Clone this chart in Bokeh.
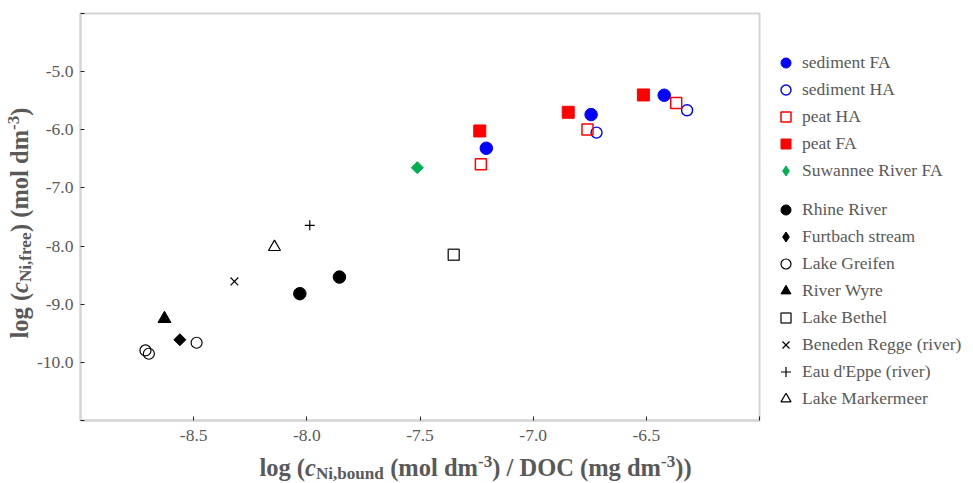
from math import pi
from bokeh.plotting import figure
from bokeh.layouts import row, column
from bokeh.models import Range1d, FixedTicker, Legend, LegendItem, Label, PrintfTickFormatter
from bokeh.embed import file_html
from bokeh.resources import INLINE

# ---------------- data ----------------
sed_fa_x = [-7.207, -6.744, -6.421]
sed_fa_y = [-6.318, -5.739, -5.406]
sed_ha_x = [-6.720, -6.320]
sed_ha_y = [-6.048, -5.664]
peat_ha_x = [-7.231, -6.760, -6.368]
peat_ha_y = [-6.594, -5.997, -5.539]
peat_fa_x = [-7.236, -6.845, -6.513]
peat_fa_y = [-6.020, -5.699, -5.401]
srfa_x = [-7.512]
srfa_y = [-6.651]
rhine_x = [-8.031, -7.856]
rhine_y = [-8.819, -8.533]
furt_x = [-8.561]
furt_y = [-9.611]
greifen_x = [-8.713, -8.698, -8.487]
greifen_y = [-9.795, -9.852, -9.663]
wyre_x = [-8.629]
wyre_y = [-9.250]
bethel_x = [-7.351]
bethel_y = [-8.148]
regge_x = [-8.320]
regge_y = [-8.608]
eppe_x = [-7.987]
eppe_y = [-7.644]
markermeer_x = [-8.143]
markermeer_y = [-8.017]

x_ticks = [-8.5, -8.0, -7.5, -7.0, -6.5]
x_end_ticks = [-9.0, -6.0]
y_ticks = [-10.0, -9.0, -8.0, -7.0, -6.0, -5.0]
y_end_ticks = [-11.0, -4.0]

group1 = ["sediment FA", "sediment HA", "peat HA", "peat FA", "Suwannee River FA"]
group2 = ["Rhine River", "Furtbach stream", "Lake Greifen", "River Wyre", "Lake Bethel",
          "Beneden Regge (river)", "Eau d'Eppe (river)", "Lake Markermeer"]

FONT = "Liberation Serif"
GRAY = "#595959"
BLUE, RED, GREEN = "#0000ff", "#ff0000", "#00b050"

styles1 = [dict(marker="circle", size=12.5, fill_color=BLUE, line_color=BLUE),
           dict(marker="circle", size=11, fill_alpha=0, line_color=BLUE, line_width=1.4),
           dict(marker="square", size=11, fill_alpha=0, line_color=RED, line_width=1.5),
           dict(marker="square", size=12, fill_color=RED, line_color=RED),
           dict(marker="square", angle=pi / 4, size=8.5, fill_color=GREEN, line_color=GREEN)]
styles2 = [dict(marker="circle", size=12.5, fill_color="black", line_color="black"),
           dict(marker="square", angle=pi / 4, size=8.5, fill_color="black", line_color="black"),
           dict(marker="circle", size=11, fill_alpha=0, line_color="black", line_width=1.2),
           dict(marker="triangle", size=13, fill_color="black", line_color="black"),
           dict(marker="square", size=11, fill_alpha=0, line_color="#333333", line_width=1.5),
           dict(marker="x", size=11, line_color="black", line_width=1.2),
           dict(marker="cross", size=10, line_color="black", line_width=1.2),
           dict(marker="triangle", size=12, fill_alpha=0, line_color="black", line_width=1.2)]
data1 = [(sed_fa_x, sed_fa_y), (sed_ha_x, sed_ha_y), (peat_ha_x, peat_ha_y),
         (peat_fa_x, peat_fa_y), (srfa_x, srfa_y)]
data2 = [(rhine_x, rhine_y), (furt_x, furt_y), (greifen_x, greifen_y), (wyre_x, wyre_y),
         (bethel_x, bethel_y), (regge_x, regge_y), (eppe_x, eppe_y), (markermeer_x, markermeer_y)]

YW = 34      # width of the y-title strip
LB = 80 - YW
MAIN_W, MAIN_H = LB + 679 + 2, 450
LEG_W = 973 - YW - MAIN_W
XT_H = 483 - MAIN_H


def blank(w, h):
    f = figure(width=w, height=h, output_backend="svg", toolbar_location=None,
               x_range=Range1d(0, 1), y_range=Range1d(0, 1), x_axis_type=None, y_axis_type=None,
               min_border=0, frame_align=False)
    f.grid.visible = False
    f.outline_line_color = None
    f.background_fill_color = "white"
    f.border_fill_color = "white"
    return f


# ---------------- main plot ----------------
p = figure(width=MAIN_W, height=MAIN_H, output_backend="svg", toolbar_location=None,
           x_range=Range1d(-9, -6), y_range=Range1d(-11, -4), frame_align=False,
           min_border_left=LB, min_border_right=2, min_border_top=13, min_border_bottom=30)
p.xgrid.visible = False
p.ygrid.visible = False
p.outline_line_color = "#d4d4d4"
p.outline_line_width = 2
p.background_fill_color = "white"
p.border_fill_color = "white"

for ax, tk, et in ((p.xaxis[0], x_ticks, x_end_ticks), (p.yaxis[0], y_ticks, y_end_ticks)):
    ax.ticker = FixedTicker(ticks=tk, minor_ticks=et)
    ax.formatter = PrintfTickFormatter(format="%.1f")
    ax.axis_line_color = "#d4d4d4"
    ax.axis_line_width = 2
    ax.major_tick_in = 4
    ax.major_tick_out = 0
    ax.minor_tick_in = 4
    ax.minor_tick_out = 0
    ax.major_tick_line_color = "#222222"
    ax.minor_tick_line_color = "#222222"
    ax.major_label_text_font = FONT
    ax.major_label_text_font_size = "17.5px"
    ax.major_label_text_color = GRAY
p.xaxis.major_label_standoff = 9
p.yaxis.major_label_standoff = 7

for (xs, ys), st in zip(data1 + data2, styles1 + styles2):
    p.scatter(xs, ys, **st)

# ---------------- legend strip ----------------
lf = blank(LEG_W, 483)


def mk_legend(names, styles, datas, loc):
    items = []
    for nm, st, (xs, ys) in zip(names, styles, datas):
        st = dict(st)
        if st.get("angle"):          # legends ignore marker angle: use a diamond there
            st.pop("angle")
            st["marker"] = "diamond"
        r = lf.scatter(xs, ys, **st)   # outside this strip's range: only the legend shows
        items.append(LegendItem(label=nm, renderers=[r]))
    lg = Legend(items=items, location=loc, border_line_color=None, background_fill_alpha=0,
                margin=0, padding=2, glyph_width=25, glyph_height=25, label_height=20, spacing=2,
                label_standoff=4, label_text_font=FONT, label_text_font_size="17.5px",
                label_text_color=GRAY)
    lf.add_layout(lg)


mk_legend(group1, styles1, data1, (12, 300))
mk_legend(group2, styles2, data2, (12, 72))

# ---------------- axis titles (composed pieces) ----------------
W = {" ": 250, "(": 333, ")": 333, ",": 250, "-": 333, "/": 278, "3": 500, "C": 722, "D": 722,
     "N": 722, "O": 778, "b": 556, "c": 444, "d": 556, "e": 444, "f": 333, "g": 500, "i": 278,
     "l": 278, "m": 833, "n": 556, "o": 500, "r": 444, "u": 556}


def tw(s, size):
    return sum(W[ch] for ch in s) * size / 1000.0


F = 24.5
SUB = 0.7
SHIFT = 0.28   # Bokeh places the alphabetic baseline this far (x size) below the anchor
DN, UP = -0.17 * F, 0.34 * F


def pieces(sub_text):
    return [("log (", F, 0.0, "bold"), ("c", F, 0.0, "bold italic"),
            (sub_text, F * SUB, DN, "bold")]


x_parts = pieces("Ni,bound") + [(" (mol dm", F, 0.0, "bold"), ("-3", F * SUB, UP, "bold"),
                                 (") / DOC (mg dm", F, 0.0, "bold"), ("-3", F * SUB, UP, "bold"),
                                 ("))", F, 0.0, "bold")]
y_parts = pieces("Ni,free") + [(") (mol dm", F, 0.0, "bold"), ("-3", F * SUB, UP, "bold"),
                               (")", F, 0.0, "bold")]


def place(fig, parts, center, base, rotated):
    total = sum(tw(s, sz) for s, sz, _, _ in parts)
    pos = center - total / 2
    for s, sz, off, st in parts:
        lead = len(s) - len(s.lstrip(" "))
        pos += tw(" " * lead, sz)
        s2 = s.strip(" ")
        if rotated:
            kw = dict(x=base - off - SHIFT * sz, y=pos, angle=pi / 2)
        else:
            kw = dict(x=pos, y=base + off + SHIFT * sz)
        fig.add_layout(Label(x_units="screen", y_units="screen", text=s2,
                             text_font=FONT, text_font_size=f"{sz:.1f}px", text_font_style=st,
                             text_color=GRAY, text_align="left", text_baseline="alphabetic", **kw))
        pos += tw(s2, sz) + tw(" " * (len(s) - lead - len(s2)), sz)


xf = blank(MAIN_W, XT_H)
place(xf, x_parts, 475 - YW, 483 - 474, rotated=False)

yf = blank(YW, 483)
place(yf, y_parts, 483 - 222.5, 26, rotated=True)

layout = row(yf, column(p, xf, spacing=0), lf, spacing=0)
open("out.html", "w").write(file_html(layout, INLINE))
